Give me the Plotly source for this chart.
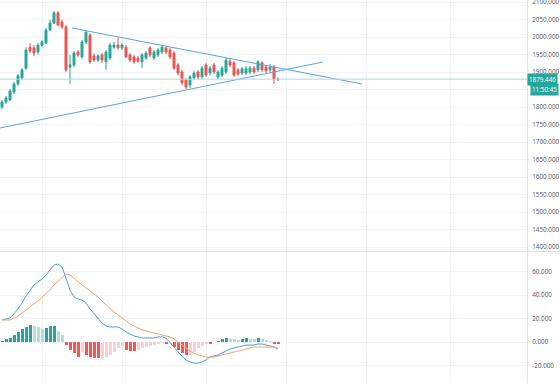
import plotly.graph_objects as go

# ---------------- data ----------------
idx = list(range(70))

opens = [1800, 1814, 1820, 1843, 1866, 1883, 1911, 1971, 1969, 1957,
         1977, 1983, 2020, 2040, 2069, 2043, 2029, 1914, 1920, 1957,
         1943, 1986, 2006, 1946, 1934, 1949, 1929, 1940, 1971, 1977,
         1969, 1971, 1949, 1943, 1940, 1929, 1940, 1969, 1940, 1949,
         1957, 1969, 1963, 1954, 1920, 1900, 1877, 1863, 1883, 1900,
         1886, 1920, 1897, 1920, 1886, 1891, 1900, 1931, 1926, 1906,
         1897, 1897, 1900, 1911, 1906, 1926, 1914, 1906, 1914, 1877]
highs = [1820, 1831, 1851, 1871, 1894, 1911, 1971, 1983, 1977, 1983,
         1991, 2026, 2049, 2074, 2074, 2049, 2034, 1949, 1960, 1963,
         1991, 2020, 2011, 1954, 1951, 1954, 1963, 1983, 1986, 1997,
         1983, 1977, 1954, 1949, 1946, 1954, 1960, 1974, 1963, 1969,
         1977, 1974, 1969, 1960, 1926, 1906, 1883, 1891, 1903, 1906,
         1917, 1926, 1917, 1926, 1906, 1917, 1940, 1940, 1931, 1911,
         1914, 1917, 1917, 1917, 1934, 1931, 1920, 1923, 1920, 1884]
lows = [1794, 1809, 1817, 1837, 1860, 1877, 1906, 1954, 1946, 1951,
        1971, 1980, 2017, 2037, 2031, 2023, 1900, 1866, 1914, 1943,
        1937, 1980, 1923, 1929, 1929, 1926, 1906, 1934, 1966, 1963,
        1963, 1940, 1929, 1923, 1926, 1911, 1934, 1943, 1934, 1943,
        1951, 1951, 1937, 1906, 1891, 1863, 1851, 1854, 1877, 1880,
        1880, 1886, 1891, 1894, 1880, 1886, 1894, 1914, 1886, 1889,
        1891, 1891, 1894, 1894, 1900, 1900, 1897, 1900, 1866, 1875]
closes = [1814, 1826, 1846, 1866, 1889, 1906, 1963, 1960, 1954, 1977,
          1986, 2020, 2040, 2069, 2034, 2029, 1906, 1920, 1954, 1949,
          1986, 2014, 1929, 1934, 1946, 1934, 1957, 1977, 1977, 1969,
          1977, 1943, 1934, 1929, 1931, 1949, 1954, 1949, 1957, 1963,
          1971, 1957, 1943, 1911, 1897, 1869, 1857, 1886, 1897, 1886,
          1911, 1891, 1911, 1900, 1900, 1911, 1934, 1920, 1891, 1894,
          1909, 1909, 1911, 1900, 1929, 1906, 1903, 1914, 1880, 1879.446]

macd_line = [18.7, 19.6, 20.4, 23.8, 28.1, 33.2, 39.1, 44.3, 48.5, 51.1,
             53.6, 57.0, 61.3, 65.5, 66.4, 63.8, 54.5, 44.3, 38.3, 36.6,
             35.7, 33.2, 28.1, 23.8, 19.6, 16.2, 13.6, 12.8, 12.8, 12.8,
             11.1, 8.5, 6.8, 5.1, 4.3, 3.4, 3.4, 3.4, 3.4, 4.3,
             4.3, 3.4, 0.0, -4.3, -8.5, -11.9, -15.3, -17.0, -17.9, -17.9,
             -17.0, -15.3, -12.8, -11.9, -11.1, -9.4, -7.7, -6.0, -5.1, -4.3,
             -3.4, -2.6, -2.6, -2.6, -1.7, -1.7, -2.6, -3.4, -4.3, -6.0]
signal_line = [18.7, 18.7, 18.7, 20.4, 22.1, 24.7, 27.2, 29.8, 32.3, 34.9,
               38.3, 40.9, 44.3, 48.5, 51.9, 55.3, 57.9, 57.0, 54.5, 51.1,
               48.5, 46.0, 43.4, 40.9, 38.3, 34.9, 31.5, 28.1, 25.5, 23.0,
               20.4, 17.9, 15.3, 13.6, 11.9, 10.2, 9.4, 8.5, 7.7, 6.8,
               6.0, 5.1, 4.3, 2.6, 0.0, -2.6, -5.1, -7.7, -9.4, -11.1,
               -11.9, -12.8, -12.8, -12.8, -11.9, -11.1, -10.2, -9.4, -8.5, -7.7,
               -6.8, -6.0, -5.1, -4.3, -4.3, -4.3, -4.3, -4.3, -4.3, -5.1]
histogram = [0.9, 2.3, 3.7, 5.7, 8.5, 11.0, 12.8, 14.5, 13.6, 12.8,
             11.0, 12.0, 13.6, 14.0, 9.4, 6.0, -2.6, -6.8, -9.4, -12.8,
             -8.5, -11.1, -12.8, -13.6, -14.0, -13.2, -12.8, -11.1, -8.5, -5.1,
             -3.4, -6.8, -7.7, -8.0, -6.8, -5.1, -4.3, -3.4, -2.6, -1.7,
             -0.9, -1.3, -0.4, -4.3, -6.8, -9.4, -11.1, -11.0, -8.5, -5.1,
             -3.4, -1.7, -2.1, -0.4, 0.6, 2.6, 3.4, 2.8, 2.3, 2.0,
             2.6, 3.0, 2.6, 2.3, 3.2, 2.6, 1.7, 0.9, -1.3, -2.1]

# trend-line drawings: (bar index, price) endpoints
falling_trend_x = [17.5, 90]
falling_trend_y = [2025.7, 1865.7]
rising_trend_x = [-0.5, 80.25]
rising_trend_y = [1740, 1928.6]

last_price = 1879.446
countdown = "11:50:45"
price_ticks = list(range(1400, 2101, 50))
hidden_price_ticks = [1850]          # covered by the last-price labels in the reference
macd_ticks = [-20, 0, 20, 40, 60]
grid_x = [10, 30, 51, 71, 91, 112]

# ---------------- styling ----------------
UP, DOWN = "#26a69a", "#ef5350"
GRID = "#f0f3fa"
TXT = "#50535e"
FONT = "Open Sans"
FS = 6.3

def hist_color(v, prev):
    if v >= 0:
        return "#26a69a" if v >= prev else "#b2dfdb"
    return "#ff5252" if v < prev else "#ffcdd2"

hcols = []
prev = 0
for v in histogram:
    hcols.append(hist_color(v, prev))
    prev = v

price_text = ["" if t in hidden_price_ticks else f"{t:.3f}" for t in price_ticks]
macd_text = [f"{t:.3f}" for t in macd_ticks]

fig = go.Figure()

fig.add_trace(go.Candlestick(
    x=idx, open=opens, high=highs, low=lows, close=closes,
    increasing=dict(line=dict(color=UP, width=1), fillcolor=UP),
    decreasing=dict(line=dict(color=DOWN, width=1), fillcolor=DOWN),
    whiskerwidth=0, xaxis="x", yaxis="y", showlegend=False, hoverinfo="skip"))

fig.add_trace(go.Scatter(x=falling_trend_x, y=falling_trend_y, mode="lines",
                         line=dict(color="#5aa3e6", width=1), xaxis="x", yaxis="y",
                         showlegend=False, hoverinfo="skip"))
fig.add_trace(go.Scatter(x=rising_trend_x, y=rising_trend_y, mode="lines",
                         line=dict(color="#5aa3e6", width=1), xaxis="x", yaxis="y",
                         showlegend=False, hoverinfo="skip"))

fig.add_trace(go.Bar(x=idx, y=histogram, marker=dict(color=hcols, line=dict(width=0)),
                     width=0.75, xaxis="x2", yaxis="y2", showlegend=False, hoverinfo="skip"))
fig.add_trace(go.Scatter(x=idx, y=macd_line, mode="lines",
                         line=dict(color="#4a9fea", width=1), xaxis="x2", yaxis="y2",
                         showlegend=False, hoverinfo="skip"))
fig.add_trace(go.Scatter(x=idx, y=signal_line, mode="lines",
                         line=dict(color="#f7a365", width=1), xaxis="x2", yaxis="y2",
                         showlegend=False, hoverinfo="skip"))

W, H = 560, 383
R = 33
split_main = 1 - 251 / H
split_macd = 1 - 252 / H

xcommon = dict(range=[-0.5, 131.25], showticklabels=False, tickvals=grid_x,
               showgrid=True, gridcolor=GRID, gridwidth=1, zeroline=False,
               ticks="", fixedrange=True)

fig.update_layout(
    width=W, height=H,
    margin=dict(l=0, r=R, t=0, b=0, autoexpand=False),
    paper_bgcolor="white", plot_bgcolor="white",
    font=dict(family=FONT, size=FS, color=TXT),
    bargap=0,
    xaxis=dict(domain=[0, 1], anchor="y", rangeslider=dict(visible=False), **xcommon),
    xaxis2=dict(domain=[0, 1], anchor="y2", matches="x", **xcommon),
    yaxis=dict(domain=[split_main, 1], side="right", range=[1388.6, 2105.7],
               tickvals=price_ticks, ticktext=price_text, showgrid=True, gridcolor=GRID,
               zeroline=False, showline=True, linecolor="#e0e3eb", ticks="",
               ticklabelstandoff=3, ticklabeloverflow="allow", automargin=False,
               tickfont=dict(size=FS, color=TXT)),
    yaxis2=dict(domain=[0, split_macd], side="right", range=[-34.9, 76.6],
                tickvals=macd_ticks, ticktext=macd_text, showgrid=True, gridcolor=GRID,
                zeroline=False, showline=True, linecolor="#e0e3eb", ticks="",
                ticklabelstandoff=3, ticklabeloverflow="allow", automargin=False,
                tickfont=dict(size=FS, color=TXT)),
)

# pane separator
fig.add_shape(type="line", xref="paper", yref="paper", x0=0, x1=W / (W - R),
              y0=(split_main + split_macd) / 2, y1=(split_main + split_macd) / 2,
              line=dict(color="#e0e3eb", width=1))
# last price line
fig.add_shape(type="line", xref="paper", yref="y", x0=0, x1=1,
              y0=last_price, y1=last_price, line=dict(color="#a8dcd6", width=1))

fig.add_annotation(x=1, xref="paper", y=last_price, yref="y", xanchor="left",
                   yanchor="middle", text=f"{last_price:.3f}", showarrow=False,
                   bgcolor=UP, font=dict(color="white", size=FS, family=FONT),
                   borderpad=1, xshift=0)
fig.add_annotation(x=1, xref="paper", y=last_price, yref="y", xanchor="left",
                   yanchor="middle", text=countdown, showarrow=False,
                   bgcolor=UP, font=dict(color="white", size=FS, family=FONT),
                   borderpad=1, xshift=3, yshift=-10)

fig.write_html("out.html", config={"displayModeBar": False, "staticPlot": True},
               post_script="document.body.style.margin='0';document.body.style.padding='0';")
